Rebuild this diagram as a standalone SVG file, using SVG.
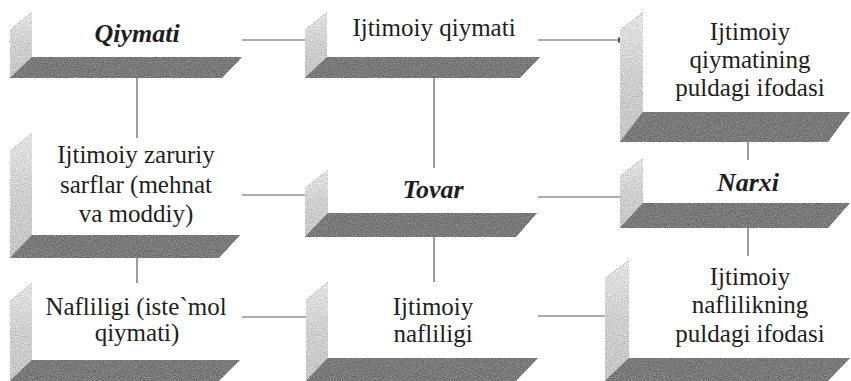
<svg xmlns="http://www.w3.org/2000/svg" width="851" height="381" viewBox="0 0 851 381">
<defs>
<filter id="grain" x="0" y="0" width="100%" height="100%" color-interpolation-filters="sRGB">
<feTurbulence type="fractalNoise" baseFrequency="0.85" numOctaves="2" seed="4" result="n"/>
<feColorMatrix in="n" type="matrix" values="0.33 0.33 0.33 0 0 0.33 0.33 0.33 0 0 0.33 0.33 0.33 0 0 0 0 0 0 1" result="g"/>
<feComposite in="SourceGraphic" in2="g" operator="arithmetic" k1="0" k2="1" k3="0.6" k4="-0.3" result="m"/>
<feComposite in="m" in2="SourceGraphic" operator="in"/>
</filter>
<linearGradient id="side" x1="0" y1="0" x2="0" y2="1">
<stop offset="0" stop-color="#e4e4e4"/>
<stop offset="0.5" stop-color="#cfcfcf"/>
<stop offset="1" stop-color="#c6c6c6"/>
</linearGradient>
<marker id="arr" viewBox="0 0 8 6" refX="8" refY="3" markerWidth="8" markerHeight="6" orient="auto" markerUnits="userSpaceOnUse">
<path d="M0,0 L8,3 L0,6 Z" fill="#555"/>
</marker>
</defs>
<style>
.side{fill:url(#side);filter:url(#grain)}
.band{fill:#7a7a7a;filter:url(#grain)}
text{font-family:'Liberation Serif','Times New Roman',Tinos,'DejaVu Serif',serif;font-size:25px;fill:#1e1e1e;text-anchor:middle}
.b{font-weight:bold;font-style:italic;font-size:26px}
.c line{stroke:#5a5a5a;stroke-width:1.2;fill:none}
</style>
<rect width="851" height="381" fill="#ffffff"/>
<g class="c" id="connectors">
<line x1="137" y1="78" x2="137" y2="138"/>
<line x1="434" y1="78" x2="434" y2="168"/>
<line x1="434" y1="237" x2="434" y2="282"/>
<line x1="137" y1="258" x2="137" y2="283"/>
<line x1="748" y1="142" x2="748" y2="160"/>
<line x1="748" y1="228" x2="748" y2="256"/>
<line x1="242" y1="40" x2="308" y2="40"/>
<line x1="538" y1="40" x2="626" y2="40" marker-end="url(#arr)"/>
<line x1="242" y1="195" x2="306" y2="195"/>
<line x1="538" y1="197" x2="621" y2="197"/>
<line x1="242" y1="317" x2="308" y2="317"/>
<line x1="538" y1="316" x2="605" y2="316"/>
</g>
<g id="n1">
<polygon class="side" points="10,30 32,12 32,57 10,78"/>
<polygon class="band" points="32,57 242,57 222,78 10,78"/>
<text class="b" x="137" y="42">Qiymati</text>
</g>
<g id="n2">
<polygon class="side" points="305,30 327,12 327,57 305,78"/>
<polygon class="band" points="327,57 540,57 520,78 305,78"/>
<text x="434" y="36">Ijtimoiy qiymati</text>
</g>
<g id="n3">
<polygon class="side" points="620,30 643,12 643,112 620,142"/>
<polygon class="band" points="643,112 850,112 828,142 620,142"/>
<text x="750" y="40">Ijtimoiy</text>
<text x="750" y="68">qiymatining</text>
<text x="750" y="96">puldagi ifodasi</text>
</g>
<g id="n4">
<polygon class="side" points="10,151 32,133 32,235 10,258"/>
<polygon class="band" points="32,235 240,235 219,258 10,258"/>
<text x="136" y="163">Ijtimoiy zaruriy</text>
<text x="136" y="193">sarflar (mehnat</text>
<text x="136" y="222">va moddiy)</text>
</g>
<g id="n5">
<polygon class="side" points="305,188 328,170 328,213 305,237"/>
<polygon class="band" points="328,213 537,213 516,237 305,237"/>
<text class="b" x="433" y="198">Tovar</text>
</g>
<g id="n6">
<polygon class="side" points="620,176 643,158 643,203 620,228"/>
<polygon class="band" points="643,203 850,203 828,228 620,228"/>
<text class="b" x="748" y="191">Narxi</text>
</g>
<g id="n7">
<polygon class="side" points="10,301 32,283 32,360 10,381"/>
<polygon class="band" points="32,360 240,360 219,381 10,381"/>
<text x="136" y="315">Nafliligi (iste`mol</text>
<text x="137" y="341">qiymati)</text>
</g>
<g id="n8">
<polygon class="side" points="306,300 328,282 328,358 306,381"/>
<polygon class="band" points="328,358 538,358 516,381 306,381"/>
<text x="433" y="315">Ijtimoiy</text>
<text x="433" y="342">nafliligi</text>
</g>
<g id="n9">
<polygon class="side" points="605,278 629,260 629,358 605,381"/>
<polygon class="band" points="629,358 850,358 828,381 605,381"/>
<text x="750" y="285">Ijtimoiy</text>
<text x="750" y="313">naflilikning</text>
<text x="750" y="342">puldagi ifodasi</text>
</g>
</svg>
